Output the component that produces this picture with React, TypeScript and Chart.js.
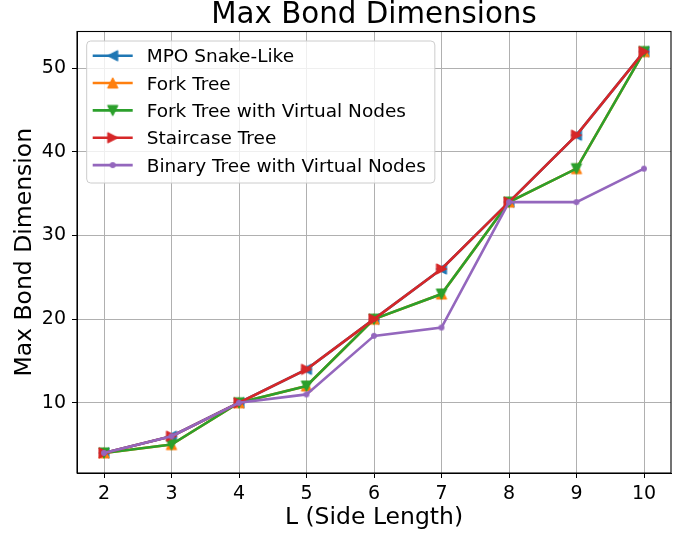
import React, { useEffect, useRef } from 'react';
import { Chart, registerables } from 'chart.js';

Chart.register(...registerables);

const sideLengths = [2, 3, 4, 5, 6, 7, 8, 9, 10];
const mpoSnakeLike = [4, 6, 10, 14, 20, 26, 34, 42, 52];
const forkTree = [4, 5, 10, 12, 20, 23, 34, 38, 52];
const forkTreeVirtual = [4, 5, 10, 12, 20, 23, 34, 38, 52];
const staircaseTree = [4, 6, 10, 14, 20, 26, 34, 42, 52];
const binaryTreeVirtual = [4, 6, 10, 11, 18, 19, 34, 34, 38];

const seriesLabels = [
  'MPO Snake-Like',
  'Fork Tree',
  'Fork Tree with Virtual Nodes',
  'Staircase Tree',
  'Binary Tree with Virtual Nodes',
];
const seriesValues = [mpoSnakeLike, forkTree, forkTreeVirtual, staircaseTree, binaryTreeVirtual];
const seriesColors = ['#1f77b4', '#ff7f0e', '#2ca02c', '#d62728', '#9467bd'];
const seriesMarkers = ['<', '^', 'v', '>', '.'];

const xTicks = [2, 3, 4, 5, 6, 7, 8, 9, 10];
const yTicks = [10, 20, 30, 40, 50];

const titleText = 'Max Bond Dimensions';
const xTitleText = 'L (Side Length)';
const yTitleText = 'Max Bond Dimension';

const FONT = 'DejaVu Sans';

function makeMarker(kind: string, color: string): HTMLCanvasElement {
  const s = 16;
  const c = s / 2;
  const h = 4.9;
  const cv = document.createElement('canvas');
  cv.width = s;
  cv.height = s;
  const ctx = cv.getContext('2d')!;
  ctx.fillStyle = color;
  ctx.strokeStyle = color;
  ctx.lineWidth = 1.3;
  ctx.lineJoin = 'round';
  ctx.beginPath();
  if (kind === '.') {
    ctx.arc(c, c, 2.3, 0, Math.PI * 2);
  } else {
    let pts: number[][];
    switch (kind) {
      case '^':
        pts = [[c, c - h], [c - h, c + h], [c + h, c + h]];
        break;
      case 'v':
        pts = [[c, c + h], [c - h, c - h], [c + h, c - h]];
        break;
      case '<':
        pts = [[c - h, c], [c + h, c - h], [c + h, c + h]];
        break;
      default:
        pts = [[c + h, c], [c - h, c - h], [c - h, c + h]];
    }
    ctx.moveTo(pts[0][0], pts[0][1]);
    ctx.lineTo(pts[1][0], pts[1][1]);
    ctx.lineTo(pts[2][0], pts[2][1]);
  }
  ctx.closePath();
  ctx.fill();
  ctx.stroke();
  return cv;
}

export default function App() {
  const canvasRef = useRef<HTMLCanvasElement | null>(null);

  useEffect(() => {
    const canvas = canvasRef.current;
    if (!canvas) return;
    const markers = seriesMarkers.map((m, i) => makeMarker(m, seriesColors[i]));

    const framePlugin = {
      id: 'frame',
      afterDatasetsDraw(chart: any) {
        const { ctx, chartArea } = chart;
        ctx.save();
        ctx.strokeStyle = '#000';
        ctx.lineWidth = 1.1;
        ctx.strokeRect(chartArea.left, chartArea.top, chartArea.right - chartArea.left, chartArea.bottom - chartArea.top);
        ctx.restore();
      },
    };

    const legendPlugin = {
      id: 'mplLegend',
      afterDraw(chart: any) {
        const { ctx, chartArea } = chart;
        ctx.save();
        ctx.font = `18.5px "${FONT}"`;
        const maxW = Math.max(...seriesLabels.map((l) => ctx.measureText(l).width));
        const x0 = chartArea.left + 9.7;
        const y0 = chartArea.top + 9.5;
        const w = 60 + maxW + 9;
        const h = 142;
        const r = 4;
        ctx.beginPath();
        ctx.moveTo(x0 + r, y0);
        ctx.lineTo(x0 + w - r, y0);
        ctx.arcTo(x0 + w, y0, x0 + w, y0 + r, r);
        ctx.lineTo(x0 + w, y0 + h - r);
        ctx.arcTo(x0 + w, y0 + h, x0 + w - r, y0 + h, r);
        ctx.lineTo(x0 + r, y0 + h);
        ctx.arcTo(x0, y0 + h, x0, y0 + h - r, r);
        ctx.lineTo(x0, y0 + r);
        ctx.arcTo(x0, y0, x0 + r, y0, r);
        ctx.closePath();
        ctx.fillStyle = 'rgba(255,255,255,0.8)';
        ctx.fill();
        ctx.strokeStyle = '#cccccc';
        ctx.lineWidth = 1;
        ctx.stroke();

        seriesLabels.forEach((label, i) => {
          const cy = y0 + 14.7 + i * 27.35;
          ctx.strokeStyle = seriesColors[i];
          ctx.lineWidth = 2.6;
          ctx.lineCap = 'butt';
          ctx.beginPath();
          ctx.moveTo(x0 + 6, cy);
          ctx.lineTo(x0 + 46, cy);
          ctx.stroke();
          const mk = markers[i];
          ctx.drawImage(mk, x0 + 26 - mk.width / 2, cy - mk.height / 2);
          ctx.fillStyle = '#000';
          ctx.textBaseline = 'alphabetic';
          ctx.textAlign = 'left';
          ctx.fillText(label, x0 + 60, cy + 6.7);
        });
        ctx.restore();
      },
    };

    const datasets = seriesLabels.map((label, i) => ({
      label,
      data: sideLengths.map((x, j) => ({ x, y: seriesValues[i][j] })),
      borderColor: seriesColors[i],
      backgroundColor: seriesColors[i],
      borderWidth: 2.6,
      pointStyle: markers[i] as any,
      pointRadius: 5,
      pointHoverRadius: 5,
      tension: 0,
      fill: false,
      order: seriesLabels.length - i,
    }));

    const chart = new Chart(canvas, {
      type: 'line',
      data: { datasets },
      plugins: [framePlugin, legendPlugin],
      options: {
        animation: false,
        responsive: false,
        maintainAspectRatio: false,
        events: [],
        layout: { padding: { left: 0, right: 23, top: 0, bottom: 0 } },
        plugins: {
          legend: { display: false },
          tooltip: { enabled: false },
          title: {
            display: true,
            text: titleText,
            color: '#000',
            fullSize: false,
            font: { family: FONT, size: 29.3, weight: 'normal', lineHeight: 1 },
            padding: { top: 0.7, bottom: 1.5 },
          },
        },
        scales: {
          x: {
            type: 'linear',
            min: 1.6,
            max: 10.4,
            afterBuildTicks: (scale: any) => {
              scale.ticks = xTicks.map((v) => ({ value: v }));
            },
            afterFit: (scale: any) => {
              scale.height = 66;
            },
            ticks: {
              autoSkip: false,
              maxRotation: 0,
              color: '#000',
              padding: 5,
              font: { family: FONT, size: 19 },
              callback: (v: any) => String(v),
            },
            grid: {
              color: '#b0b0b0',
              lineWidth: 1,
              drawTicks: true,
              tickLength: 5,
              tickColor: '#000',
              tickWidth: 1,
            },
            border: { display: true, color: '#000', width: 1 },
            title: {
              display: true,
              text: xTitleText,
              color: '#000',
              font: { family: FONT, size: 23.5, lineHeight: 1.2 },
              padding: { top: 0, bottom: 6.9 },
            },
          },
          y: {
            type: 'linear',
            min: 1.6,
            max: 54.4,
            afterBuildTicks: (scale: any) => {
              scale.ticks = yTicks.map((v) => ({ value: v }));
            },
            afterFit: (scale: any) => {
              scale.width = 77;
            },
            ticks: {
              autoSkip: false,
              color: '#000',
              padding: 6,
              font: { family: FONT, size: 19 },
              callback: (v: any) => String(v),
            },
            grid: {
              color: '#b0b0b0',
              lineWidth: 1,
              drawTicks: true,
              tickLength: 5,
              tickColor: '#000',
              tickWidth: 1,
            },
            border: { display: true, color: '#000', width: 1 },
            title: {
              display: true,
              text: yTitleText,
              color: '#000',
              font: { family: FONT, size: 23.5, lineHeight: 1.2 },
              padding: { top: 10.9, bottom: 0 },
            },
          },
        },
      } as any,
    });

    return () => {
      chart.destroy();
    };
  }, []);

  return (
    <div style={{ position: 'fixed', left: 0, top: 0, width: 694, height: 539, background: '#fff' }}>
      <canvas ref={canvasRef} width={694} height={539} style={{ width: 694, height: 539, display: 'block' }} />
    </div>
  );
}
